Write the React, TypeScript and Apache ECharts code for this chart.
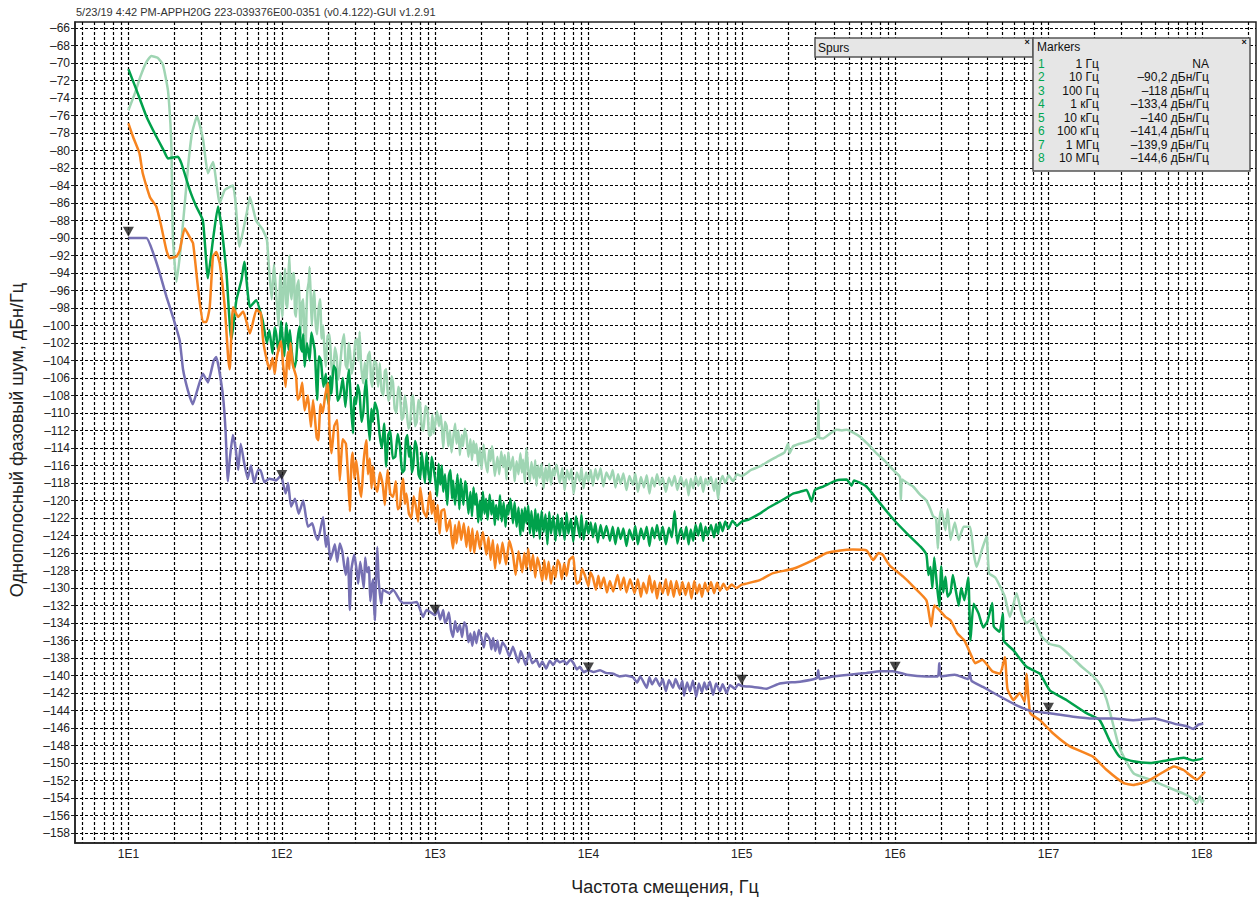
import React, { useEffect, useRef } from "react";
import * as echarts from "echarts";

const titleText = "5/23/19 4:42 PM-APPH20G 223-039376E00-0351 (v0.4.122)-GUI v1.2.91";
const yAxisTitle = "Однополосный фазовый шум, дБн/Гц";
const xAxisTitle = "Частота смещения, Гц";

const yTickValues = [-158, -156, -154, -152, -150, -148, -146, -144, -142, -140, -138, -136, -134, -132, -130, -128, -126, -124, -122, -120, -118, -116, -114, -112, -110, -108, -106, -104, -102, -100, -98, -96, -94, -92, -90, -88, -86, -84, -82, -80, -78, -76, -74, -72, -70, -68, -66];
const xLabelValues = [10, 100, 1000, 10000, 100000, 1000000, 10000000, 100000000];
const xGridValues = [
  5, 6, 7, 8, 9,
  10, 20, 30, 40, 50, 60, 70, 80, 90,
  100, 200, 300, 400, 500, 600, 700, 800, 900,
  1000, 2000, 3000, 4000, 5000, 6000, 7000, 8000, 9000,
  10000, 20000, 30000, 40000, 50000, 60000, 70000, 80000, 90000,
  100000, 200000, 300000, 400000, 500000, 600000, 700000, 800000, 900000,
  1000000, 2000000, 3000000, 4000000, 5000000, 6000000, 7000000, 8000000, 9000000,
  10000000, 20000000, 30000000, 40000000, 50000000, 60000000, 70000000, 80000000, 90000000,
  100000000, 200000000,
];

const markerNums = ["1", "2", "3", "4", "5", "6", "7", "8"];
const markerFreqLabels = ["1 Гц", "10 Гц", "100 Гц", "1 кГц", "10 кГц", "100 кГц", "1 МГц", "10 МГц"];
const markerValueLabels = ["NA", "–90,2 дБн/Гц", "–118 дБн/Гц", "–133,4 дБн/Гц", "–140 дБн/Гц", "–141,4 дБн/Гц", "–139,9 дБн/Гц", "–144,6 дБн/Гц"];
const markerPoints = [[10, -90.2], [100, -118], [1000, -133.4], [10000, -140], [100000, -141.4], [1000000, -139.9], [10000000, -144.6]];

const lightGreen = [
  [10, -75.4], [11, -73.5], [12, -71.5], [13, -70], [14.1, -69.2], [15.5, -69.4], [16.8, -70.2], [18.1, -73.1], [18.8, -77], [19.1, -80], [19.5, -90], [20.6, -95], [22.2, -90.2], [24.5, -81.8], [26, -78], [28, -76.1], [30.7, -78.8], [33, -82.6], [35.6, -81.3], [39.4, -86], [42.5, -84.5], [48, -84], [50, -86], [53, -91], [59, -87.2], [62, -85.3], [68, -88], [75, -89], [80, -90.2],
  [83, -94], [86, -97], [89, -93], [92, -96.3], [95, -100], [98, -94], [101, -99], [103, -95.5], [105, -93.5], [107, -97.5], [109, -98], [110.5, -94.5], [112, -92], [114, -96], [116, -97], [118, -94.2], [120, -94], [122, -98.5], [124, -99], [126, -95.5], [129, -94.8], [131, -98.2], [133, -101], [135, -97.5], [138, -97], [140, -100.5], [143, -103], [145, -98.5], [147, -96], [150, -95], [152, -93.3], [155, -97.5], [157, -100], [160, -97.2], [163, -96], [166, -99.5], [170, -101], [174, -98], [178, -97], [182, -101.5], [186, -100], [190, -103], [194, -104.7], [199, -101.2], [205, -101], [210, -104.2], [216, -106], [222, -102.5], [228, -103.5], [233, -106.2], [239, -105], [247, -102.2], [255, -101], [261, -104.5], [268, -105], [273, -102], [278, -102.8], [286, -105.5], [295, -104], [302, -101.8], [310, -101.5], [316, -104], [322, -100.7], [330, -104.8], [340, -106.6], [348, -104.2], [356, -106.6], [365, -103.5], [375, -103], [382, -106.2], [390, -107], [400, -104], [413, -104.3], [425, -107], [436, -104.3], [448, -107.5], [460, -108], [470, -105.2], [480, -105], [495, -108.6], [510, -108], [520, -105.8], [532, -106.6], [545, -109.5], [560, -110], [575, -107], [590, -107.5], [605, -110.8], [620, -110.5], [635, -108], [650, -109.3], [670, -111.8], [690, -111], [705, -108.2], [720, -108], [740, -111.5], [760, -111], [778, -108.5], [796, -108.9], [820, -111.8], [840, -112], [865, -109.2], [890, -109.5], [915, -112.6], [940, -112.5], [960, -110.2], [980, -112.3],
  [1030, -109.8], [1060, -111.5], [1090, -110.2], [1130, -114], [1160, -111], [1190, -111.5], [1220, -113.8], [1250, -112], [1280, -114.5], [1310, -113], [1350, -111.2], [1380, -113.5], [1420, -112], [1450, -114.8], [1490, -112.5], [1520, -113.8], [1560, -111.8], [1600, -112.6], [1650, -115], [1700, -113], [1740, -115.4], [1780, -113.2], [1820, -114.6], [1860, -113.5], [1910, -116], [1960, -114], [2010, -116.4], [2070, -113.6], [2130, -115.5], [2200, -116.8], [2250, -114.2], [2300, -115.5], [2350, -113.8], [2390, -114.8], [2450, -117.2], [2550, -115], [2620, -117], [2700, -114.4], [2780, -116.2], [2850, -114.8], [2920, -117.6], [3000, -114.5], [3100, -116.5], [3220, -115], [3300, -117.8], [3400, -115.5], [3500, -117], [3600, -114.6], [3680, -116.8], [3750, -115.3], [3850, -118], [3940, -114], [4050, -116.5], [4150, -117.8], [4250, -115.6], [4400, -117.5], [4500, -115.4], [4580, -118.3], [4700, -116], [4820, -117.4], [4950, -115.8], [5100, -118.6], [5250, -116.2], [5400, -117.8], [5550, -115.8], [5700, -118.2], [5850, -116.4], [6000, -117.2], [6200, -115.9], [6500, -118], [6750, -116.3], [7000, -118.8], [7250, -116.5], [7500, -117.6], [7750, -116.4], [8000, -119.2], [8400, -116.8], [8790, -117.8], [9000, -116.3], [9300, -118.6], [9650, -116.8], [10000, -117.8], [10350, -116.5], [10700, -118.3], [11100, -116.4], [11500, -117.6], [12000, -116.3], [12500, -118.4], [13100, -116.8], [13800, -117.6], [14400, -116.5], [15000, -118.5], [15600, -117], [16200, -118.1], [16900, -116.9], [17700, -118.8], [18500, -117.2], [19500, -118.2], [20200, -116.9], [21000, -119], [22000, -117.3], [23000, -118.5], [24000, -117.1], [25000, -119.2], [26000, -117.4], [27000, -118.4], [28000, -117], [29200, -118.2], [30500, -117.4], [32000, -119], [33500, -117.4], [35000, -118.3], [36500, -117.2], [38000, -118.8], [40000, -117.3], [42000, -118.4], [43500, -117.6], [45000, -119.4], [46500, -117.5], [48200, -118.6], [50000, -117.2], [52000, -118.3], [54000, -117.3], [56000, -119], [58000, -117.5], [60000, -118.2], [63000, -117.3], [66000, -118.9], [68000, -117.5], [70000, -119.8], [72000, -118], [75000, -117.2], [78000, -118], [82000, -117.1], [87900, -117.8], [93000, -117], [100000, -117.2],
  [115000, -116.5], [131000, -116.1], [150000, -115.5], [169000, -115], [190000, -114.5], [200000, -113.5], [205000, -114.6], [216000, -113.8], [240000, -113.5], [265000, -113.3], [290000, -113], [312000, -112.7], [316000, -108.5], [320000, -112.8], [340000, -112.9], [380000, -112.3], [415000, -111.9], [450000, -112], [483000, -111.9], [530000, -112.2], [590000, -112.7], [660000, -113.5], [757000, -114.6], [860000, -115.5], [970000, -116.5], [1075000, -117.3], [1090000, -119.9], [1110000, -117.6], [1200000, -118], [1310000, -118.4], [1450000, -119.3], [1600000, -120], [1700000, -121], [1770000, -121.8], [1850000, -122], [1900000, -125.5], [1940000, -122.5], [2000000, -121], [2130000, -123.4], [2200000, -121], [2300000, -124.5], [2450000, -122.5], [2600000, -124.5], [2800000, -123], [3080000, -123], [3250000, -126], [3400000, -127.6], [3700000, -125.5], [3950000, -124.1], [4100000, -128.3], [4500000, -128.8], [4830000, -129.8], [5200000, -131], [5600000, -133.3], [6200000, -130.6], [6700000, -133], [7200000, -134], [7900000, -133.5], [9000000, -135.5], [10200000, -136.4], [11900000, -136.7], [14000000, -137.8], [16500000, -139], [19600000, -140.1], [22000000, -141.2], [24000000, -142.8], [26600000, -145.8], [28500000, -147.8], [31000000, -149.3], [36000000, -151.2], [46000000, -151.9], [59000000, -152.7], [76000000, -153.5], [86000000, -154], [93000000, -154.6], [97000000, -153.8], [100000000, -154.5], [103000000, -154.2],
];

const darkGreen = [
  [10, -70.7], [11.3, -73.1], [13.1, -76.1], [15.2, -78.4], [17, -80], [18.1, -80.9], [21, -80.7], [22.2, -81.5], [25.1, -84.5], [27.7, -86.4], [30.6, -88], [33, -94.6], [35.6, -90.2], [38.4, -86.4], [40.4, -88.7], [43.6, -94], [46.9, -101.7], [50.6, -97.1], [54.6, -94.8], [57, -92.7], [62, -97.9], [68, -97.1],
  [75, -99.4], [80, -102], [83, -100.5], [87, -103.2], [90, -100.2], [92, -101], [95, -103], [97, -101.7], [99, -99.5], [101, -101.2], [104, -103.5], [107, -99.7], [109, -101.5], [111, -102.8], [113, -100.5], [116, -102.8], [120, -105], [124, -104], [127, -101.5], [131, -100.1], [133, -102.5], [136, -103], [138, -101], [141, -104.7], [146, -102], [152, -104], [156, -100.8], [160, -101.7], [164, -102.8], [167, -105.5], [170, -108.5], [175, -103.5], [180, -104], [187, -107], [194, -105.5], [198, -108], [203, -109], [207, -105.8], [211, -107.8], [218, -104.6], [225, -105], [232, -108.6], [240, -108], [250, -106], [260, -109.3], [268, -106.5], [275, -105], [283, -109.2], [291, -112.3], [298, -108.2], [305, -109], [313, -106.8], [322, -107.8], [331, -111], [340, -110], [348, -107.5], [356, -106.2], [365, -110.5], [375, -113.1], [384, -109.5], [393, -111], [405, -108.8], [420, -109.7], [435, -112.5], [450, -114], [465, -111.2], [480, -116.1], [495, -112.5], [510, -112], [530, -115.2], [550, -115], [570, -112.4], [590, -113.8], [610, -116.8], [630, -116.5], [645, -113], [660, -112.5], [675, -115], [690, -113.8], [705, -116.8], [720, -116.1], [740, -113.2], [760, -114], [780, -117], [800, -117.5], [818, -114.5], [835, -116.1], [858, -118], [880, -114.5], [905, -116.8], [930, -118], [950, -115], [975, -116.1],
  [1000, -117.5], [1030, -119.5], [1055, -115.8], [1080, -118.2], [1105, -116], [1130, -119], [1160, -117], [1200, -120.5], [1230, -117.2], [1260, -116.5], [1290, -119.8], [1310, -117.7], [1350, -120.5], [1400, -117], [1440, -121], [1470, -117.5], [1500, -119.2], [1530, -120.5], [1570, -117.8], [1600, -118.4], [1650, -121.5], [1700, -119], [1740, -121.8], [1780, -118.5], [1820, -120.5], [1860, -119.2], [1910, -122.5], [1960, -120], [2000, -122.3], [2050, -119], [2100, -121.5], [2150, -119.8], [2200, -122.2], [2270, -119.3], [2330, -121.6], [2390, -120], [2450, -122.8], [2500, -120.5], [2580, -122.2], [2650, -119.4], [2720, -122.4], [2800, -120.2], [2880, -123], [2950, -120.5], [3000, -121.6], [3100, -119.8], [3220, -122.6], [3300, -120.2], [3400, -123], [3500, -120.8], [3600, -124], [3680, -121], [3750, -123.5], [3850, -120.8], [3940, -122.6], [4050, -120.6], [4150, -123.8], [4250, -121.2], [4400, -124.2], [4500, -121], [4600, -123.5], [4700, -121.5], [4820, -124.4], [4950, -121.2], [5100, -123.6], [5250, -121.6], [5400, -125], [5550, -121.3], [5700, -123.8], [5900, -121.8], [6100, -124.6], [6300, -121.6], [6500, -124], [6700, -122], [7000, -124.5], [7200, -121.4], [7400, -123.8], [7700, -122.1], [7960, -124.7], [8300, -121.8], [8790, -124.2], [9000, -121.6], [9300, -124.5], [9700, -122.3], [10000, -123.8], [10350, -122.5], [10700, -124.2], [11100, -122.6], [11500, -124.8], [12000, -122.8], [12500, -124.3], [13100, -122.9], [13800, -124.6], [14400, -123], [15000, -125], [15600, -123.1], [16200, -124.4], [16900, -123.2], [17700, -125.2], [18500, -123.3], [19500, -124.5], [20200, -122.9], [21000, -125], [22000, -123.2], [23000, -124.4], [24000, -123], [25000, -125.2], [26000, -123.1], [27000, -124.3], [28000, -122.8], [29200, -124.5], [30500, -123], [32000, -125], [33500, -123.1], [35000, -124.2], [36500, -121.2], [38000, -124.9], [40000, -123.2], [42000, -124.4], [43500, -123], [45000, -125], [46500, -123.3], [48200, -124.6], [50000, -122.8], [52000, -124], [54000, -122.6], [56000, -124.6], [58000, -123], [60000, -124], [63000, -122.8], [66000, -124.2], [68000, -122.7], [70000, -123.8], [72000, -122.5], [75000, -123.5], [78000, -122.4], [82000, -123.2], [87000, -122.3], [93000, -122.9], [100000, -122.4],
  [110000, -122.2], [131000, -121.5], [150000, -120.8], [169000, -120.3], [190000, -119.8], [216000, -119.2], [240000, -119], [265000, -118.8], [285000, -120.1], [300000, -118.8], [340000, -118.4], [415000, -117.7], [483000, -117.6], [520000, -118.3], [540000, -117.7], [650000, -118.4], [796000, -120.3], [980000, -122.2], [1200000, -123.8], [1470000, -125.3], [1600000, -126.2], [1650000, -128.5], [1700000, -127.6], [1750000, -130], [1800000, -126.5], [1870000, -129.5], [1940000, -132.1], [2000000, -127.5], [2060000, -130.5], [2130000, -128.7], [2200000, -131], [2300000, -130.5], [2380000, -128.5], [2460000, -129.8], [2600000, -132], [2700000, -130], [2830000, -131.4], [3000000, -128.8], [3100000, -136], [3250000, -131.8], [3500000, -132.9], [3750000, -134.5], [4000000, -133.8], [4300000, -131.7], [4400000, -134.4], [4800000, -135], [5050000, -132.9], [5100000, -136], [5900000, -137.1], [7200000, -139], [8800000, -139.8], [10200000, -141.7], [13100000, -142.8], [17700000, -144.3], [21600000, -145.1], [25000000, -147.4], [29200000, -149.3], [35700000, -149.8], [46000000, -150], [59000000, -149.7], [76000000, -149.4], [88000000, -149.7], [102000000, -149.5],
];

const orange = [
  [10, -76.9], [10.7, -78.4], [11.8, -80.3], [12.4, -82.6], [13.8, -85.3], [15.2, -86.4], [16.4, -88.7], [17.7, -91.4], [18.6, -92.3], [20.6, -92.1], [21.6, -91.4], [23.3, -88.9], [25.1, -89.9], [26.4, -90.6], [28.4, -95.6], [30.6, -99.6], [32.2, -99.6], [33.9, -97.9], [35.6, -92.1], [37.4, -91.6], [39.4, -92.9], [42.5, -97.9], [44.7, -103.6], [45.8, -105], [48.1, -97.9], [51.9, -99], [56, -98.4], [62, -100.9], [68.4, -98.2], [73, -98.6], [75.6, -101.7], [80, -104],
  [83.5, -105], [87, -103.7], [90, -105.5], [92, -104], [96, -102.5], [99, -101.8], [102, -104.5], [106, -107], [108, -104.2], [110, -103], [112, -105], [114, -102], [118, -104.5], [124, -105.8], [127, -108.5], [131, -108.1], [136, -106.5], [141, -109.7], [148, -108], [155, -111.6], [160, -108.5], [165, -110.8], [169, -112.8], [173, -113.1], [179, -109], [185, -110], [192, -108], [200, -106.6], [205, -112], [211, -114.6], [220, -111.5], [230, -110.8], [235, -114.5], [239, -117.7], [250, -113], [262, -113.5], [270, -117], [278, -121.2], [284, -116], [290, -114.5], [298, -117.5], [306, -115.4], [318, -118], [330, -119.6], [342, -115.5], [356, -113.1], [365, -117], [375, -115.2], [385, -118.6], [393, -116.1], [405, -118.2], [420, -119], [437, -116.8], [457, -118.4], [470, -120.5], [490, -116.5], [510, -119.2], [532, -119.6], [555, -117.8], [570, -121], [590, -120.7], [605, -118.5], [620, -117.5], [635, -120.4], [650, -119.2], [675, -121.5], [700, -122], [725, -119.5], [750, -120.7], [775, -122.4], [800, -118.5], [840, -121.2], [880, -121.9], [905, -120.2], [930, -119], [950, -121.5], [975, -120],
  [1010, -122.5], [1040, -120.5], [1070, -123.8], [1100, -121.2], [1150, -121], [1190, -123.5], [1250, -122.2], [1280, -124.2], [1310, -125.5], [1350, -122.8], [1380, -124.9], [1430, -122.4], [1480, -124.5], [1540, -122.6], [1600, -125.3], [1650, -123], [1700, -125.8], [1750, -123.2], [1800, -126], [1880, -123.5], [1960, -125.5], [2050, -123.6], [2160, -126.2], [2230, -124.2], [2300, -126.8], [2380, -124.5], [2460, -127.8], [2550, -125], [2640, -127.2], [2750, -124.8], [2900, -127.3], [3050, -124.6], [3220, -126.2], [3350, -128.5], [3500, -125.8], [3700, -128.2], [3820, -126], [3940, -127.8], [4050, -125.5], [4200, -128], [4350, -126.2], [4500, -128.8], [4650, -126.5], [4820, -127.6], [5000, -129.2], [5150, -126.8], [5300, -129], [5500, -127], [5700, -129.5], [5900, -127.5], [6100, -128.8], [6300, -126.8], [6500, -127.3], [6700, -129], [6950, -127.2], [7200, -128.6], [7500, -126.8], [7960, -126.4], [8150, -128.2], [8400, -129.5], [8790, -129.2], [9100, -127.8], [9500, -128.6], [10000, -129.8], [10300, -128.2], [10700, -128.8], [11200, -130.2], [11600, -128.6], [12000, -130], [12600, -128.8], [13200, -130.5], [13800, -129.2], [14500, -130.4], [15500, -128.5], [16200, -130.2], [17000, -128.8], [17700, -130.5], [18700, -129], [20000, -130.6], [21000, -129], [22000, -131], [22800, -129.4], [24000, -130.6], [25000, -128.6], [26000, -130.5], [27000, -129.2], [28000, -131.2], [29200, -129.4], [30500, -130.6], [32000, -129], [33000, -130.8], [34500, -129.2], [36000, -131], [37500, -129.2], [39400, -130.8], [41000, -129.3], [43000, -130.8], [45000, -129.4], [47000, -131.2], [49000, -129.2], [51000, -130.6], [53000, -129.6], [55000, -131], [57500, -129.4], [60000, -130.4], [63000, -129.3], [66000, -130.6], [69000, -129.4], [72000, -130.3], [76000, -129.5], [80000, -130.2], [86000, -129.6], [92000, -130], [100000, -129.6],
  [107000, -129.5], [131000, -129.1], [160000, -128.3], [216000, -127.8], [292000, -126.8], [357000, -126], [440000, -125.7], [530000, -125.6], [650000, -125.7], [720000, -126.8], [780000, -126], [830000, -126.2], [920000, -127.4], [1130000, -128.7], [1310000, -129.8], [1600000, -131.4], [1720000, -134.4], [1800000, -132], [1940000, -132.5], [2130000, -133.3], [2300000, -133.7], [2550000, -135.2], [2830000, -136], [3100000, -137.5], [3330000, -138.6], [3700000, -138.2], [4300000, -139.5], [4830000, -139.8], [5200000, -137.9], [5400000, -141.5], [5900000, -142.8], [6500000, -142], [7000000, -143], [7200000, -139.8], [7600000, -144.3], [8800000, -145.1], [10700000, -146.6], [13800000, -148.1], [19600000, -149.3], [24000000, -150.8], [31000000, -152.3], [35700000, -152.5], [44000000, -152.1], [54000000, -151.2], [66000000, -150.4], [76000000, -150.8], [93000000, -151.9], [105000000, -151],
];

const purple = [
  [10, -90], [13.1, -90], [14.5, -91.7], [16, -94], [17.7, -96.7], [19.5, -99], [21.6, -101.7], [22.7, -105], [24.5, -107.5], [26.3, -109], [28, -107.5], [30.6, -105.5], [33, -106.5], [36, -104], [37.4, -103.6], [39, -105], [41.4, -108.1], [43, -112], [44.5, -117.8], [46, -115], [48, -112.5], [50, -114], [52, -116.5], [54, -113.5], [57, -115.8], [60, -117.5], [63, -116], [66, -118], [70, -116.5], [72.6, -116.5], [77, -117.9], [83, -117.5], [92, -117.7], [99, -117.1], [101, -117.7], [106, -119.2], [110, -118], [115, -120.7], [122, -119.8], [129, -121.5], [138, -120], [148, -123], [158, -122.6], [165, -123.8], [172, -124.5], [186, -121.9], [194, -125.3], [200, -124], [207, -126.8], [214, -126], [222, -125], [230, -127], [239, -124.9], [248, -125.8], [256, -127.6], [262, -128.5], [270, -126.5], [278, -132.5], [284, -128], [290, -127], [297, -126.2], [306, -127.6], [315, -129.5], [325, -127], [335, -128.7], [343, -130], [350, -126.5], [360, -128.2], [370, -127.6], [378, -131.5], [385, -130], [395, -129], [400, -132], [405, -133.7], [412, -128.5], [420, -125.3], [428, -129], [436, -130.6], [445, -131.8], [457, -130.2], [505, -130.6], [532, -130.2], [590, -131.4], [620, -131.7], [690, -131.7], [760, -131.6], [835, -133.3], [880, -132.5],
  [1000, -133.1], [1040, -132.4], [1080, -133.6], [1130, -132.5], [1160, -134], [1190, -133.7], [1230, -132.8], [1270, -134.8], [1310, -135.6], [1350, -133.8], [1400, -135], [1450, -134.2], [1500, -135.6], [1550, -133.9], [1600, -134.4], [1650, -136.2], [1700, -135.2], [1750, -136.6], [1800, -135], [1860, -136.3], [1930, -134.8], [2000, -135.6], [2080, -136.8], [2150, -135.2], [2270, -135.9], [2330, -137], [2390, -135.7], [2470, -137.2], [2550, -136], [2640, -137.5], [2750, -136.2], [2900, -136.8], [3050, -137.8], [3220, -136.7], [3350, -137.6], [3500, -138.5], [3620, -137.2], [3750, -137.9], [3900, -138.8], [4100, -137.4], [4300, -138.6], [4580, -138.2], [4800, -139], [5000, -138.4], [5300, -139.2], [5600, -138.3], [5890, -138.8], [6200, -138.2], [6500, -138.5], [6900, -138.3], [7200, -138.7], [7600, -138.2], [8000, -138.6], [8400, -139.3], [8790, -139], [9300, -139.6], [10000, -139.4], [10800, -139.6], [11900, -139.4], [13000, -139.7], [14500, -139.8], [16000, -140.1], [17500, -140], [19500, -140.2], [20800, -140.8], [21800, -140.1], [22800, -140.7], [24000, -141.4], [25000, -140.2], [26000, -141], [27500, -140.3], [29200, -141.2], [30500, -140.4], [32000, -141.8], [33500, -140.5], [35600, -141.4], [37000, -140.4], [39400, -141.5], [41000, -140.6], [42000, -142.3], [44000, -140.8], [46000, -141.8], [48000, -140.6], [50500, -142.4], [52500, -140.9], [55000, -141.9], [57000, -140.8], [59000, -141.6], [62000, -140.7], [65000, -142.2], [68000, -140.9], [72000, -141.8], [75000, -141], [79600, -142], [84000, -141.1], [90000, -141.5], [95000, -141], [100000, -141.2],
  [119000, -141.3], [145000, -141.5], [177000, -140.9], [240000, -140.7], [308000, -140.3], [315000, -139.4], [322000, -140.4], [394000, -140.1], [505000, -139.9], [650000, -139.7], [796000, -139.5], [970000, -139.5], [1190000, -139.9], [1600000, -140.1], [1900000, -140.1], [1940000, -138.6], [1980000, -140.1], [2450000, -139.9], [3000000, -140.4], [3070000, -139.7], [3150000, -140.6], [3740000, -141.3], [4830000, -142.4], [6200000, -143.4], [7900000, -144.1], [10200000, -144.3], [14500000, -144.7], [19600000, -144.9], [26600000, -144.9], [35700000, -145.1], [49000000, -144.9], [66000000, -145.5], [80000000, -145.8], [88000000, -146.1], [95000000, -145.6], [102000000, -145.5],
];

const FONT = '"Liberation Sans", Arial, sans-serif';

export default function App() {
  const ref = useRef<HTMLDivElement>(null);

  useEffect(() => {
    if (!ref.current) return;
    const chart = echarts.init(ref.current, undefined, { renderer: "svg" });

    const boxFill = "#e6e6e6";
    const boxStroke = "#555";
    const rowStart = 63.5;
    const rowStep = 13.5;

    const markerRows: any[] = [];
    markerNums.forEach((n, i) => {
      const y = rowStart + i * rowStep;
      markerRows.push({ type: "text", x: 1038, y, style: { text: n, font: `12px ${FONT}`, fill: "#00a651", align: "left", verticalAlign: "middle" } });
      markerRows.push({ type: "text", x: 1099, y, style: { text: markerFreqLabels[i], font: `12px ${FONT}`, fill: "#111", align: "right", verticalAlign: "middle" } });
      markerRows.push({ type: "text", x: 1209, y, style: { text: markerValueLabels[i], font: `12px ${FONT}`, fill: "#111", align: "right", verticalAlign: "middle" } });
    });

    const lineSeries = (name: string, data: number[][], color: string, z: number) => ({
      name,
      type: "line",
      data,
      showSymbol: false,
      symbol: "none",
      smooth: 0.15,
      z,
      lineStyle: { color, width: 2.5 },
      itemStyle: { color },
    });

    chart.setOption({
      animation: false,
      backgroundColor: "#fff",
      grid: { left: 75, right: 3, top: 22, bottom: 56, show: true, borderColor: "#222", borderWidth: 1.5, backgroundColor: "transparent" },
      xAxis: {
        type: "log",
        logBase: 10,
        min: 4.484,
        max: 2.257e8,
        axisLine: { show: true, lineStyle: { color: "#222", width: 1.5 } },
        axisTick: { show: false, customValues: xGridValues },
        axisLabel: {
          customValues: xLabelValues,
          formatter: (v: number) => "1E" + Math.round(Math.log10(v)),
          fontSize: 12,
          fontFamily: FONT,
          color: "#222",
          margin: 5,
        },
        splitLine: { show: true, lineStyle: { color: "#000", width: 1.2, type: [3, 2] } },
        minorTick: { show: false },
        minorSplitLine: { show: false },
      },
      yAxis: {
        type: "value",
        min: -159.14,
        max: -65.31,
        axisLine: { show: true, lineStyle: { color: "#222", width: 1.5 } },
        axisTick: { show: true, length: 4, customValues: yTickValues, lineStyle: { color: "#222", width: 1 } },
        axisLabel: {
          customValues: yTickValues,
          formatter: (v: number) => "–" + Math.abs(Math.round(v)),
          fontSize: 12,
          fontFamily: FONT,
          color: "#222",
          margin: 5,
        },
        splitLine: { show: true, lineStyle: { color: "#000", width: 1.2, type: [3, 2] } },
      },
      series: [
        lineSeries("lightGreen", lightGreen, "#9fd5b3", 2),
        lineSeries("darkGreen", darkGreen, "#00a14b", 3),
        lineSeries("orange", orange, "#f7841f", 4),
        lineSeries("purple", purple, "#7670b3", 5),
        {
          name: "markers",
          type: "scatter",
          data: markerPoints,
          symbol: "triangle",
          symbolRotate: 180,
          symbolSize: [11, 10],
          symbolOffset: [0, -8],
          itemStyle: { color: "#1a1a1a" },
          z: 10,
        },
      ],
      graphic: [
        { type: "text", x: 76, y: 12, style: { text: titleText, font: `11px ${FONT}`, fill: "#333", align: "left", verticalAlign: "middle" } },
        { type: "text", x: 17, y: 440, rotation: Math.PI / 2, style: { text: yAxisTitle, font: `18px ${FONT}`, fill: "#222", align: "center", verticalAlign: "middle" } },
        { type: "text", x: 665, y: 887, style: { text: xAxisTitle, font: `18px ${FONT}`, fill: "#222", align: "center", verticalAlign: "middle" } },
        { type: "rect", shape: { x: 815, y: 38, width: 218, height: 19 }, style: { fill: boxFill, stroke: boxStroke, lineWidth: 1.5 }, z: 20 },
        { type: "text", x: 818, y: 47.5, z: 21, style: { text: "Spurs", font: `12px ${FONT}`, fill: "#111", align: "left", verticalAlign: "middle" } },
        { type: "text", x: 1027, y: 42, z: 21, style: { text: "×", font: `bold 9px ${FONT}`, fill: "#111", align: "center", verticalAlign: "middle" } },
        { type: "rect", shape: { x: 1033, y: 38, width: 217, height: 133 }, style: { fill: boxFill, stroke: boxStroke, lineWidth: 1.5 }, z: 20 },
        { type: "text", x: 1037, y: 47, z: 21, style: { text: "Markers", font: `12px ${FONT}`, fill: "#111", align: "left", verticalAlign: "middle" } },
        { type: "text", x: 1244, y: 42, z: 21, style: { text: "×", font: `bold 9px ${FONT}`, fill: "#111", align: "center", verticalAlign: "middle" } },
        ...markerRows.map((r) => ({ ...r, z: 21 })),
      ],
    });

    return () => chart.dispose();
  }, []);

  return (
    <div
      ref={ref}
      style={{ position: "fixed", left: 0, top: 0, width: 1259, height: 899, background: "#fff" }}
    />
  );
}
